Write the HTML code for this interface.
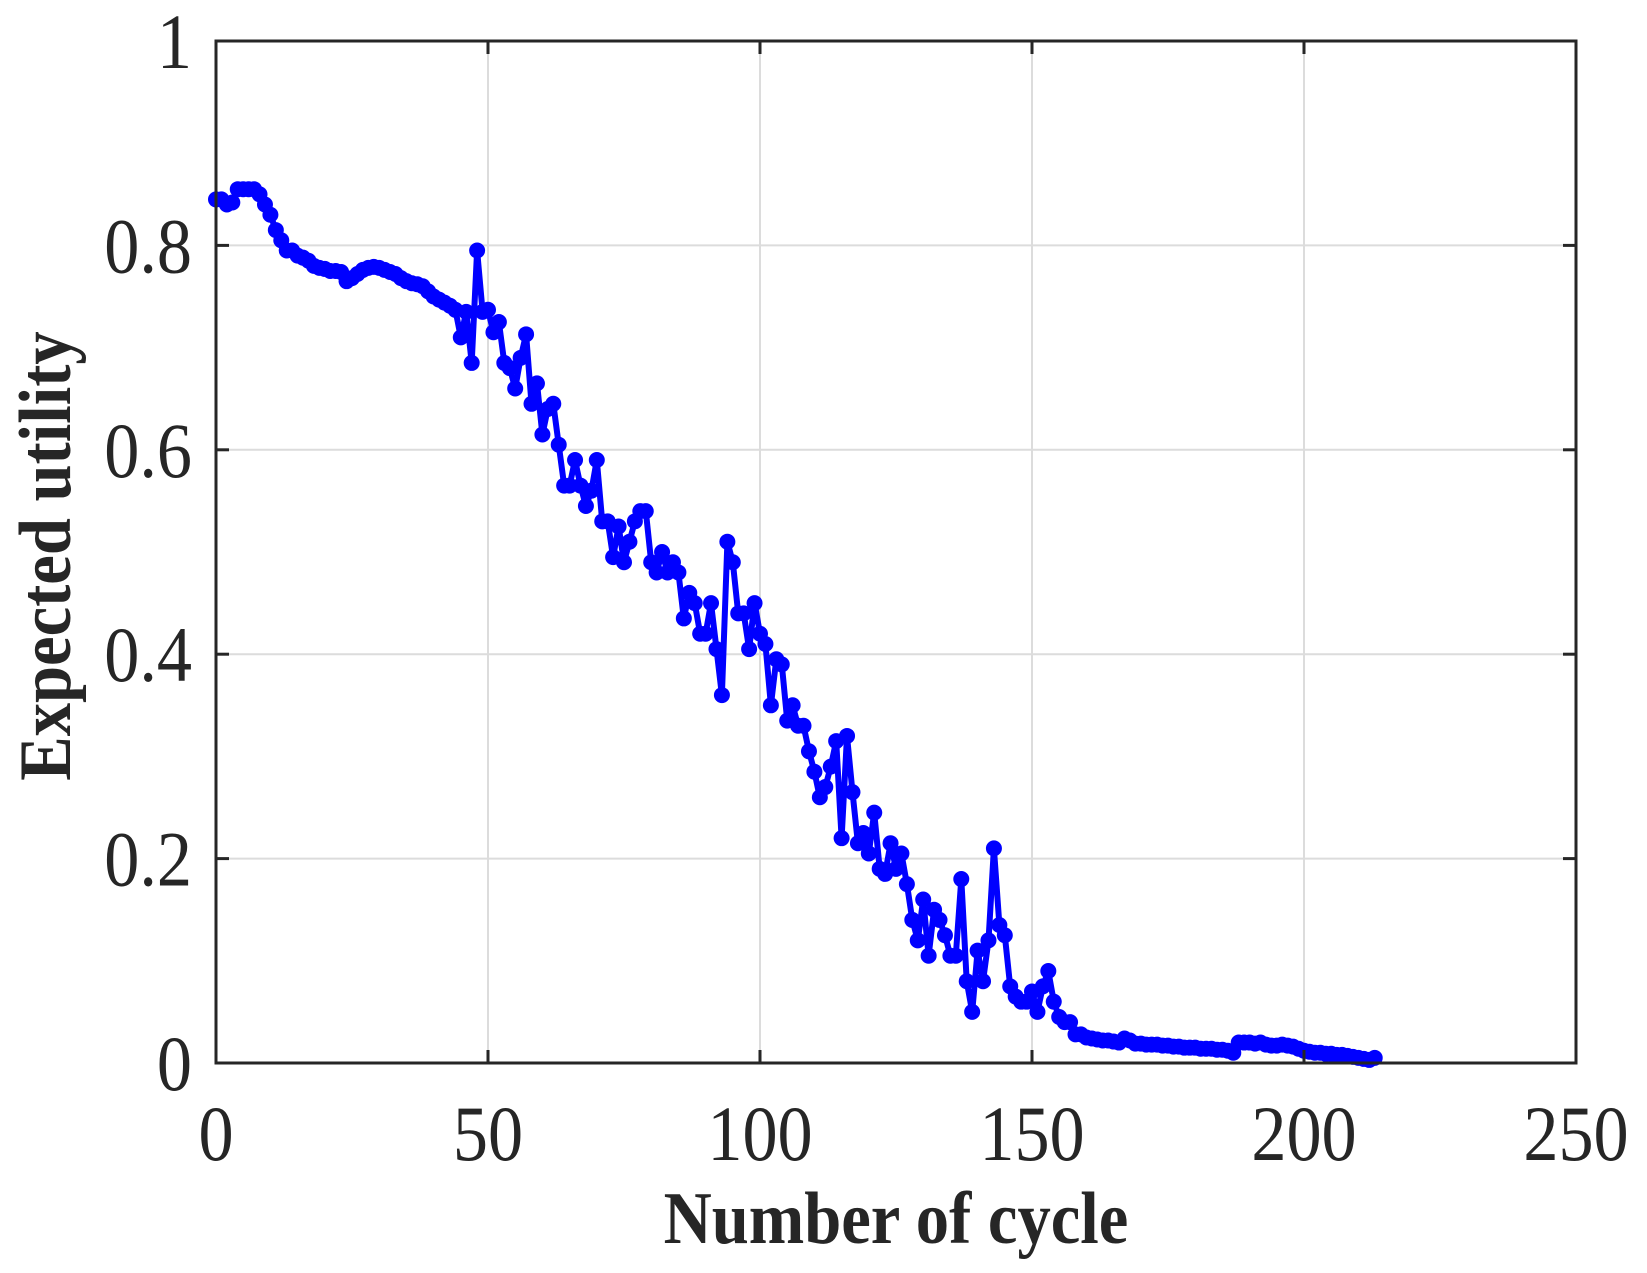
<!DOCTYPE html>
<html><head><meta charset="utf-8"><style>
html,body{margin:0;padding:0;background:#fff;}
svg{display:block;}
text{font-family:"Liberation Serif",serif;fill:#262626;}
</style></head><body>
<svg id="chart" width="1647" height="1273" xmlns="http://www.w3.org/2000/svg">
<g id="grid"></g>
<g id="series"></g>
<rect x="216" y="41" width="1360" height="1022" fill="none" stroke="#262626" stroke-width="3"/>
<g id="ticks"></g>
<text transform="translate(896,1243) scale(0.9,1)" text-anchor="middle" font-size="74" font-weight="bold">Number of cycle</text>
<text transform="translate(70,556) rotate(-90) scale(0.9,1)" text-anchor="middle" font-size="74" font-weight="bold">Expected utility</text>
</svg>
<script>
const xTicks=[0,50,100,150,200,250];
const yTicks=[0,0.2,0.4,0.6,0.8,1];
const yTickLabels=["0","0.2","0.4","0.6","0.8","1"];
const utility=[0.845,0.845,0.84,0.842,0.855,0.855,0.855,0.855,0.85,0.84,0.83,0.815,0.805,0.795,0.795,0.79,0.788,0.785,0.78,0.778,
0.777,0.775,0.775,0.774,0.765,0.768,0.772,0.776,0.778,0.779,0.778,0.776,0.774,0.772,0.768,0.765,0.763,0.762,0.76,0.755,
0.75,0.747,0.744,0.741,0.737,0.71,0.735,0.685,0.795,0.735,0.737,0.715,0.725,0.685,0.68,0.66,0.69,0.713,0.645,0.665,
0.615,0.64,0.645,0.605,0.565,0.565,0.59,0.565,0.545,0.56,0.59,0.53,0.53,0.495,0.525,0.49,0.51,0.53,0.54,0.54,
0.49,0.48,0.5,0.48,0.49,0.48,0.435,0.46,0.45,0.42,0.42,0.45,0.405,0.36,0.51,0.49,0.44,0.44,0.405,0.45,
0.42,0.41,0.35,0.395,0.39,0.335,0.35,0.33,0.33,0.305,0.285,0.26,0.27,0.29,0.315,0.22,0.32,0.265,0.215,0.225,
0.205,0.245,0.19,0.185,0.215,0.19,0.205,0.175,0.14,0.12,0.16,0.105,0.15,0.14,0.125,0.105,0.105,0.18,0.08,0.05,
0.11,0.08,0.12,0.21,0.135,0.125,0.075,0.065,0.06,0.06,0.07,0.05,0.075,0.09,0.06,0.045,0.04,0.04,0.028,0.028,
0.025,0.024,0.023,0.022,0.022,0.021,0.02,0.024,0.022,0.019,0.019,0.018,0.018,0.018,0.017,0.017,0.016,0.016,0.015,0.015,
0.015,0.014,0.014,0.014,0.013,0.013,0.012,0.01,0.02,0.02,0.02,0.019,0.02,0.018,0.017,0.017,0.018,0.017,0.016,0.014,
0.012,0.011,0.01,0.01,0.009,0.009,0.008,0.008,0.007,0.006,0.005,0.004,0.003,0.005];
const NS="http://www.w3.org/2000/svg";
const L=216,R=1576,T=41,B=1063;
const xs=v=>L+(v/250)*(R-L);
const ys=v=>B-v*(B-T);
const grid=document.getElementById('grid'),ticks=document.getElementById('ticks'),ser=document.getElementById('series');
function mk(tag,attrs,parent){const e=document.createElementNS(NS,tag);for(const k in attrs)e.setAttribute(k,attrs[k]);parent.appendChild(e);return e;}
xTicks.forEach((t,i)=>{
  const x=xs(t);
  if(i>0&&i<xTicks.length-1){const g=mk('line',{x1:x,x2:x,y1:T,y2:B,stroke:'#dcdcdc','stroke-width':2},grid);
  
  }
  const a=mk('line',{x1:x,x2:x,y1:B,y2:B-13,stroke:'#262626','stroke-width':3},ticks);
  
  
  const b=mk('line',{x1:x,x2:x,y1:T,y2:T+13,stroke:'#262626','stroke-width':3},ticks);
  
  
  const tx=mk('text',{transform:'translate('+x+',1160) scale(0.9,1)','text-anchor':'middle','font-size':78},ticks);
  tx.textContent=String(t);
  
  
});
yTicks.forEach((t,i)=>{
  const y=ys(t);
  if(i>0&&i<yTicks.length-1){const g=mk('line',{x1:L,x2:R,y1:y,y2:y,stroke:'#dcdcdc','stroke-width':2},grid);
  
  }
  const a=mk('line',{x1:L,x2:L+13,y1:y,y2:y,stroke:'#262626','stroke-width':3},ticks);
  
  
  const b=mk('line',{x1:R,x2:R-13,y1:y,y2:y,stroke:'#262626','stroke-width':3},ticks);
  
  
  const tx=mk('text',{transform:'translate(192,'+(y+27)+') scale(0.9,1)','text-anchor':'end','font-size':78},ticks);
  tx.textContent=yTickLabels[i];
  
  
});
const pts=utility.map((v,i)=>xs(i).toFixed(1)+','+ys(v).toFixed(1)).join(' ');
const line=mk('polyline',{points:pts,fill:'none',stroke:'#0000ff','stroke-width':6,'stroke-linejoin':'round'},ser);


utility.forEach((v,i)=>{
  const c=mk('circle',{cx:xs(i),cy:ys(v),r:8,fill:'#0000ff'},ser);
  
  
});
</script>
</body></html>
